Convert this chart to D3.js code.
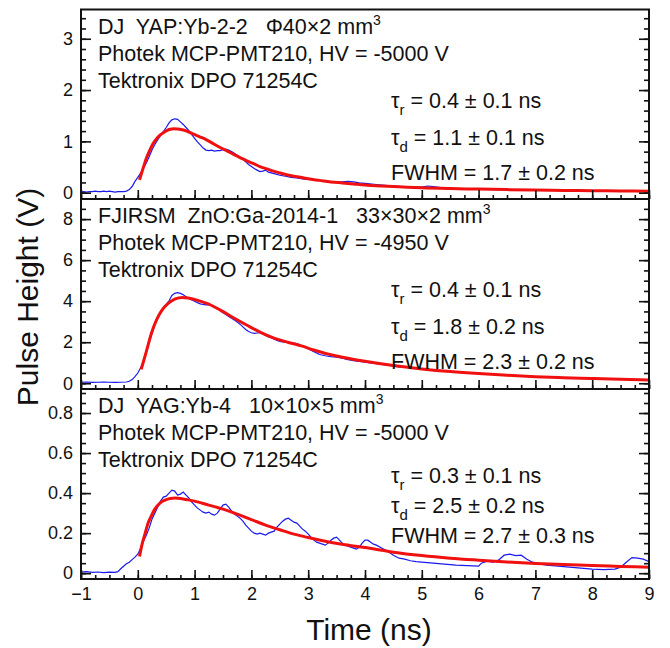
<!DOCTYPE html>
<html>
<head>
<meta charset="utf-8">
<script src="https://cdn.jsdelivr.net/npm/d3@7"></script>
<style>
  body { margin: 0; background: #fff; }
  svg text { font-family: "Liberation Sans", Arial, sans-serif; fill: #111; }
</style>
</head>
<body>
<svg id="chart" width="670" height="648"></svg>
<script>
// ---- data: [time (ns), pulse height (V)] ----
const yapSignal = [
  [-1.00,0.01],[-0.95,0.02],[-0.90,0.01],[-0.85,0.02],[-0.80,0.02],[-0.75,0.03],[-0.70,0.02],[-0.65,0.02],
  [-0.60,0.03],[-0.55,0.02],[-0.50,0.03],[-0.45,0.02],[-0.40,0.01],[-0.35,0.02],[-0.30,0.02],[-0.25,0.02],
  [-0.20,0.03],[-0.15,0.06],[-0.10,0.12],[-0.05,0.22],[0.00,0.30],[0.05,0.38],[0.10,0.48],[0.15,0.58],
  [0.20,0.70],[0.25,0.83],[0.30,0.94],[0.35,1.03],[0.40,1.11],[0.45,1.19],[0.50,1.27],[0.55,1.36],
  [0.60,1.42],[0.65,1.44],[0.70,1.43],[0.75,1.38],[0.80,1.33],[0.85,1.27],[0.90,1.21],[0.95,1.13],
  [1.00,1.06],[1.05,0.99],[1.10,0.93],[1.15,0.87],[1.20,0.83],[1.25,0.82],[1.30,0.83],[1.35,0.81],
  [1.40,0.82],[1.45,0.82],[1.50,0.84],[1.55,0.85],[1.60,0.83],[1.65,0.80],[1.70,0.77],[1.75,0.73],
  [1.80,0.69],[1.85,0.65],[1.90,0.60],[1.95,0.55],[2.00,0.51],[2.05,0.47],[2.10,0.44],[2.15,0.41],
  [2.20,0.42],[2.25,0.44],[2.30,0.40],[2.40,0.37],[2.50,0.34],[2.60,0.32],[2.70,0.30],[2.80,0.29],
  [2.90,0.27],[3.00,0.26],[3.10,0.25],[3.20,0.24],[3.30,0.22],[3.40,0.21],[3.50,0.20],[3.60,0.21],
  [3.70,0.22],[3.80,0.21],[3.90,0.19],[4.00,0.18],[4.20,0.16],[4.40,0.14],[4.60,0.12],[4.80,0.11],
  [5.00,0.11],[5.10,0.13],[5.20,0.12],[5.40,0.09],[5.60,0.08],[5.80,0.08],[6.00,0.07],[6.30,0.06],
  [6.60,0.06],[7.00,0.05],[7.40,0.05],[7.80,0.04],[8.20,0.04],[8.60,0.03],[9.00,0.03]
];
const yapFit = [
  [0.03,0.25],[0.10,0.50],[0.15,0.67],[0.20,0.80],[0.27,0.96],[0.33,1.05],[0.39,1.12],[0.45,1.17],
  [0.51,1.21],[0.57,1.235],[0.63,1.245],[0.70,1.24],[0.78,1.225],[0.86,1.20],[0.98,1.14],[1.10,1.085],
  [1.21,1.03],[1.33,0.955],[1.45,0.88],[1.57,0.815],[1.68,0.75],[1.80,0.685],[1.92,0.62],[2.05,0.56],
  [2.15,0.51],[2.27,0.465],[2.39,0.42],[2.50,0.385],[2.62,0.35],[2.75,0.32],[2.86,0.30],[3.00,0.27],
  [3.20,0.24],[3.40,0.21],[3.60,0.19],[3.80,0.17],[4.00,0.15],[4.30,0.13],[4.60,0.115],[5.00,0.095],
  [5.50,0.08],[6.00,0.07],[6.50,0.06],[7.00,0.05],[7.50,0.045],[8.00,0.04],[8.50,0.035],[9.00,0.03]
];

const znoSignal = [
  [-1.00,0.05],[-0.90,0.06],[-0.80,0.04],[-0.70,0.05],[-0.60,0.06],[-0.50,0.05],[-0.40,0.04],[-0.30,0.05],
  [-0.20,0.06],[-0.15,0.10],[-0.10,0.18],[-0.05,0.32],[0.00,0.50],[0.05,0.75],[0.10,1.10],[0.15,1.54],
  [0.20,2.00],[0.25,2.42],[0.30,2.85],[0.35,3.20],[0.40,3.48],[0.45,3.68],[0.50,3.85],[0.55,4.02],
  [0.60,4.28],[0.65,4.38],[0.70,4.42],[0.75,4.38],[0.80,4.31],[0.85,4.22],[0.90,4.13],[0.95,4.06],
  [1.00,4.00],[1.05,3.93],[1.10,3.87],[1.15,3.84],[1.20,3.82],[1.25,3.83],[1.30,3.80],[1.35,3.74],
  [1.40,3.66],[1.45,3.53],[1.50,3.44],[1.55,3.35],[1.60,3.25],[1.65,3.17],[1.70,3.08],[1.75,2.98],
  [1.80,2.88],[1.85,2.75],[1.90,2.62],[1.95,2.52],[2.00,2.46],[2.05,2.43],[2.10,2.45],[2.15,2.47],
  [2.20,2.40],[2.25,2.33],[2.30,2.26],[2.35,2.22],[2.40,2.15],[2.45,2.09],[2.50,2.04],[2.55,2.02],
  [2.60,2.00],[2.70,1.97],[2.80,1.93],[2.90,1.81],[3.00,1.68],[3.10,1.54],[3.20,1.40],[3.30,1.34],
  [3.40,1.30],[3.50,1.27],[3.60,1.22],[3.70,1.15],[3.80,1.10],[3.90,1.06],[4.00,1.03],[4.20,0.95],
  [4.40,0.88],[4.60,0.80],[4.80,0.76],[5.00,0.70],[5.20,0.64],[5.40,0.60],[5.60,0.55],[5.80,0.50],
  [6.00,0.48],[6.20,0.44],[6.50,0.40],[6.80,0.35],[7.00,0.33],[7.30,0.29],[7.60,0.26],[8.00,0.23],
  [8.40,0.20],[8.70,0.18],[9.00,0.17]
];
const znoFit = [
  [0.06,0.68],[0.15,1.54],[0.24,2.44],[0.33,3.09],[0.42,3.54],[0.54,3.90],[0.66,4.11],[0.78,4.18],
  [0.89,4.15],[1.07,4.03],[1.24,3.87],[1.47,3.54],[1.70,3.17],[1.94,2.80],[2.17,2.47],[2.41,2.19],
  [2.64,2.00],[2.88,1.82],[3.10,1.62],[3.34,1.43],[3.50,1.33],[4.00,1.07],[4.50,0.86],[5.00,0.70],
  [5.50,0.57],[6.00,0.47],[6.50,0.39],[7.00,0.32],[7.50,0.27],[8.00,0.23],[8.50,0.19],[9.00,0.16]
];

const yagSignal = [
  [-1.00,0.005],[-0.90,0.008],[-0.80,0.004],[-0.70,0.006],[-0.60,0.003],[-0.50,0.005],[-0.40,0.004],
  [-0.35,0.008],[-0.30,0.022],[-0.25,0.035],[-0.20,0.047],[-0.15,0.055],[-0.10,0.068],[-0.05,0.080],
  [0.00,0.095],[0.05,0.125],[0.10,0.16],[0.15,0.19],[0.20,0.225],[0.25,0.27],[0.30,0.30],[0.35,0.33],
  [0.40,0.36],[0.45,0.38],[0.50,0.385],[0.55,0.40],[0.60,0.415],[0.65,0.41],[0.70,0.39],[0.75,0.395],
  [0.80,0.405],[0.85,0.39],[0.90,0.375],[0.95,0.355],[1.00,0.34],[1.05,0.325],[1.10,0.315],[1.15,0.305],
  [1.20,0.30],[1.25,0.305],[1.30,0.295],[1.35,0.29],[1.40,0.30],[1.45,0.32],[1.50,0.34],[1.55,0.345],
  [1.60,0.33],[1.65,0.31],[1.70,0.295],[1.75,0.285],[1.80,0.275],[1.85,0.26],[1.90,0.24],[1.95,0.225],
  [2.00,0.21],[2.05,0.20],[2.10,0.195],[2.15,0.20],[2.20,0.195],[2.25,0.19],[2.30,0.20],[2.35,0.205],
  [2.40,0.21],[2.45,0.23],[2.50,0.245],[2.55,0.26],[2.60,0.27],[2.65,0.275],[2.70,0.265],[2.75,0.255],
  [2.80,0.25],[2.85,0.235],[2.90,0.22],[2.95,0.21],[3.00,0.195],[3.05,0.18],[3.10,0.165],[3.15,0.155],
  [3.20,0.15],[3.25,0.145],[3.30,0.14],[3.35,0.15],[3.40,0.165],[3.45,0.175],[3.50,0.18],[3.55,0.165],
  [3.60,0.15],[3.65,0.14],[3.70,0.135],[3.75,0.13],[3.80,0.125],[3.85,0.12],[3.90,0.13],[3.95,0.15],
  [4.00,0.165],[4.05,0.165],[4.10,0.155],[4.15,0.145],[4.20,0.14],[4.30,0.125],[4.40,0.11],[4.50,0.09],
  [4.60,0.075],[4.70,0.07],[4.80,0.062],[4.90,0.058],[5.00,0.055],[5.20,0.05],[5.40,0.045],[5.60,0.04],
  [5.80,0.038],[6.00,0.035],[6.05,0.05],[6.15,0.06],[6.25,0.055],[6.35,0.065],[6.45,0.09],[6.55,0.095],
  [6.65,0.088],[6.75,0.09],[6.85,0.07],[6.95,0.055],[7.05,0.048],[7.20,0.04],[7.40,0.035],[7.60,0.03],
  [7.80,0.025],[8.00,0.02],[8.20,0.018],[8.40,0.02],[8.50,0.03],[8.60,0.055],[8.70,0.078],[8.80,0.075],
  [8.90,0.07],[9.00,0.058]
];
const yagFit = [
  [0.03,0.083],[0.08,0.15],[0.13,0.20],[0.18,0.25],[0.22,0.275],[0.30,0.32],[0.39,0.35],[0.48,0.365],
  [0.57,0.373],[0.66,0.375],[0.75,0.373],[0.85,0.368],[1.00,0.36],[1.25,0.34],[1.50,0.32],[1.75,0.295],
  [2.00,0.268],[2.25,0.24],[2.50,0.217],[2.75,0.195],[3.00,0.178],[3.30,0.16],[3.60,0.145],[4.00,0.128],
  [4.50,0.105],[5.00,0.088],[5.50,0.075],[6.00,0.065],[6.50,0.056],[7.00,0.049],[7.50,0.043],[8.00,0.038],
  [8.50,0.034],[9.00,0.03]
];

// text blocks
const sampleLines = [
  ["DJ  YAP:Yb-2-2   \u03A640\u00D72 mm", "Photek MCP-PMT210, HV = -5000 V", "Tektronix DPO 71254C"],
  ["FJIRSM  ZnO:Ga-2014-1   33\u00D730\u00D72 mm", "Photek MCP-PMT210, HV = -4950 V", "Tektronix DPO 71254C"],
  ["DJ  YAG:Yb-4   10\u00D710\u00D75 mm", "Photek MCP-PMT210, HV = -5000 V", "Tektronix DPO 71254C"]
];
const riseTimes = ["0.4 \u00B1 0.1 ns", "0.4 \u00B1 0.1 ns", "0.3 \u00B1 0.1 ns"];
const decayTimes = ["1.1 \u00B1 0.1 ns", "1.8 \u00B1 0.2 ns", "2.5 \u00B1 0.2 ns"];
const fwhmValues = ["1.7 \u00B1 0.2 ns", "2.3 \u00B1 0.2 ns", "2.7 \u00B1 0.3 ns"];

// axis ticks
const timeTicks = d3.range(-1, 10, 1);
const timeMinor = d3.range(-1, 9.01, 0.25);
const yMajor = [[0, 1, 2, 3], [0, 2, 4, 6, 8], [0, 0.2, 0.4, 0.6, 0.8]];
const yMinorStep = [0.2, 0.5, 0.05];
const yDomains = [[-0.123, 3.57], [-0.28, 8.98], [-0.029, 0.92]];

// ---- layout ----
const svg = d3.select("#chart");
const left = 81, right = 649;
const panelEdges = [9.5, 199, 389, 579];
const textX = 98, fitTextX = 391;
const fitTextOffsets = [[98, 135, 170], [98, 135, 170], [94, 124, 154]];

const x = d3.scaleLinear().domain([-1, 9]).range([left, right]);

const panels = [
  { signal: yapSignal, fit: yapFit },
  { signal: znoSignal, fit: znoFit },
  { signal: yagSignal, fit: yagFit }
];

panels.forEach((p, i) => {
  const top = panelEdges[i], bottom = panelEdges[i + 1];
  const y = d3.scaleLinear().domain(yDomains[i]).range([bottom, top]);
  const g = svg.append("g").attr("class", "panel");

  const clipId = "clip" + i;
  svg.append("clipPath").attr("id", clipId)
    .append("rect").attr("x", left).attr("y", top).attr("width", right - left).attr("height", bottom - top);

  const line = d3.line().x(d => x(d[0])).y(d => y(d[1]));

  g.append("path")
    .datum(p.signal)
    .attr("clip-path", `url(#${clipId})`)
    .attr("fill", "none")
    .attr("stroke", "#1a1aee")
    .attr("stroke-width", 1.2)
    .attr("d", line);

  g.append("path")
    .datum(p.fit)
    .attr("clip-path", `url(#${clipId})`)
    .attr("fill", "none")
    .attr("stroke", "#f01010")
    .attr("stroke-width", 3)
    .attr("d", line.curve(d3.curveMonotoneX));

  // y axes (left with labels, right mirrored), ticks pointing inwards
  const minor = d3.range(yDomains[i][0] < 0 ? 0 : yDomains[i][0], yDomains[i][1], yMinorStep[i])
    .map(v => +v.toFixed(3));
  const fmt = i === 2 ? (v => v === 0 ? "0" : d3.format(".1f")(v)) : d3.format("d");

  g.append("g").attr("transform", `translate(${left},0)`)
    .call(d3.axisLeft(y).tickValues(minor).tickSize(-5).tickFormat(""));
  g.append("g").attr("transform", `translate(${left},0)`)
    .call(d3.axisLeft(y).tickValues(yMajor[i]).tickSize(-10).tickPadding(8).tickFormat(fmt))
    .selectAll("text").style("font-size", "18px");
  g.append("g").attr("transform", `translate(${right},0)`)
    .call(d3.axisRight(y).tickValues(minor).tickSize(-5).tickFormat(""));
  g.append("g").attr("transform", `translate(${right},0)`)
    .call(d3.axisRight(y).tickValues(yMajor[i]).tickSize(-10).tickFormat(""));

  // x axis along each panel bottom
  g.append("g").attr("transform", `translate(0,${bottom})`)
    .call(d3.axisBottom(x).tickValues(timeMinor).tickSize(-4).tickFormat(""));
  const xa = g.append("g").attr("transform", `translate(0,${bottom})`)
    .call(d3.axisBottom(x).tickValues(timeTicks).tickSize(-9).tickPadding(8)
      .tickFormat(i === 2 ? d3.format("d") : ""));
  xa.selectAll("text").style("font-size", "18px");

  g.selectAll(".domain").remove();
  g.selectAll(".tick line").attr("stroke", "#111").attr("stroke-width", 1.6);
  g.selectAll(".tick text").attr("fill", "#111");

  // frame
  g.append("rect")
    .attr("x", left).attr("y", top)
    .attr("width", right - left).attr("height", bottom - top)
    .attr("fill", "none").attr("stroke", "#111").attr("stroke-width", 2);

  // sample description
  const info = g.append("g").style("font-size", "21.5px");
  sampleLines[i].forEach((s, k) => {
    const t = info.append("text")
      .attr("x", textX).attr("y", top + 24 + k * 27)
      .style("white-space", "pre")
      .text(s);
    if (k === 0) {
      t.append("tspan").attr("dy", -9).style("font-size", "14px").text("3");
    }
  });

  // fit results
  const fit = g.append("g").style("font-size", "21.5px");
  const tau = (label, sub, value, yy) => {
    const t = fit.append("text").attr("x", fitTextX).attr("y", yy).style("white-space", "pre");
    t.append("tspan").text(label);
    t.append("tspan").attr("dy", 7).style("font-size", "15px").text(sub);
    t.append("tspan").attr("dy", -7).text(" = " + value);
  };
  tau("\u03C4", "r", riseTimes[i], top + fitTextOffsets[i][0]);
  tau("\u03C4", "d", decayTimes[i], top + fitTextOffsets[i][1]);
  fit.append("text").attr("x", fitTextX).attr("y", top + fitTextOffsets[i][2])
    .style("white-space", "pre").text("FWHM = " + fwhmValues[i]);
});

// axis titles
svg.append("text")
  .attr("x", (left + right) / 2 + 4).attr("y", 640)
  .attr("text-anchor", "middle")
  .style("font-size", "30px")
  .text("Time (ns)");

svg.append("text")
  .attr("transform", "translate(38,297) rotate(-90)")
  .attr("text-anchor", "middle")
  .style("font-size", "30px")
  .text("Pulse Height (V)");
</script>
</body>
</html>
